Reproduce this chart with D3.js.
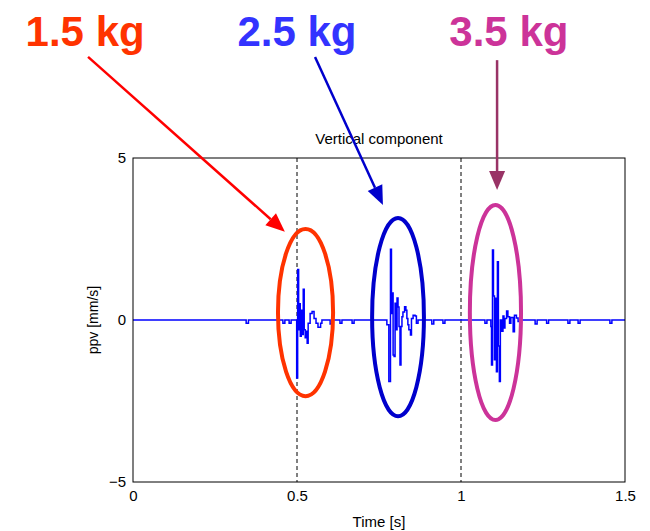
<!DOCTYPE html>
<html>
<head>
<meta charset="utf-8">
<script src="https://cdn.jsdelivr.net/npm/d3@7"></script>
<style>
  body { margin: 0; background: #fff; }
  svg text { font-family: "Liberation Sans", Arial, sans-serif; }
</style>
</head>
<body>
<svg id="chart" width="650" height="531"></svg>
<script>
// signal samples (time in s, ppv in mm/s), step-wise
var times = [0, 0.345, 0.352, 0.457, 0.463, 0.476, 0.482,
  0.499, 0.502, 0.505, 0.507, 0.510, 0.513, 0.516, 0.519, 0.522, 0.525, 0.529, 0.531, 0.534,
  0.540, 0.546, 0.552, 0.558, 0.564, 0.572, 0.576,
  0.601, 0.607, 0.631, 0.637, 0.668, 0.674,
  0.774, 0.780, 0.785, 0.788, 0.791, 0.793, 0.796, 0.799, 0.802, 0.805, 0.808, 0.811, 0.814,
  0.817, 0.820, 0.823, 0.828, 0.832, 0.835, 0.838, 0.841, 0.846, 0.849, 0.854, 0.860, 0.864, 0.869,
  0.911, 0.917, 0.945, 0.951,
  1.073, 1.079, 1.091, 1.093, 1.096, 1.099, 1.102, 1.105, 1.108, 1.111, 1.114, 1.117, 1.120,
  1.124, 1.128, 1.131, 1.134, 1.139, 1.143, 1.148, 1.152, 1.159, 1.163, 1.169, 1.174, 1.180,
  1.226, 1.232, 1.261, 1.267, 1.326, 1.332, 1.357, 1.363, 1.454, 1.460, 1.5];
var ppv = [0, -0.1, 0, -0.1, 0, -0.1, 0,
  -1.79, 1.56, -0.3, 0.5, -0.5, 0.3, -0.45, 0.95, -0.3, -0.55, -0.35, -0.72, -0.1,
  0.2, 0.26, 0.05, -0.1, -0.22, -0.1, 0,
  -0.12, 0, -0.1, 0, -0.1, 0,
  -0.15, -1.9, 2.18, 0.2, 0.83, -1.08, -1.13, 0.52, -0.3, 0.68, 0.4, -0.2, -1.39,
  -0.2, 0.1, 0.25, 0.41, 0.3, 0.05, -0.15, -0.3, -0.46, 0.05, 0.15, 0.12, -0.1, 0,
  -0.12, 0, -0.1, 0,
  -0.1, 0, -0.2, -1.39, 2.16, 0.74, -1.23, 0.67, -1.6, 1.8, -0.8, -1.9, 0,
  -0.35, 0.12, -0.25, 0.05, 0.28, 0.1, -0.1, 0.08, -0.36, 0.15, 0.06, -0.05, 0,
  -0.12, 0, -0.1, 0, -0.1, 0, -0.1, 0, -0.1, 0, 0];

var xTicks = [0, 0.5, 1, 1.5];
var yTicks = [-5, 0, 5];
var markerTimes = [0.5, 1];

// annotations: charge labels, ellipses round the bursts, arrows
var charges = ["1.5 kg", "2.5 kg", "3.5 kg"];
var chargeColors = ["#ff3300", "#3333ff", "#cc3399"];
var ringColors = ["#ff3300", "#0000cc", "#cc3399"];
var arrowColors = ["#ff0000", "#0000cc", "#993366"];
var labelT = [-0.146, 0.5, 1.146];
var labelV = [8.45, 8.45, 8.45];
var ringT = [0.526, 0.808, 1.105];
var ringV = [0.23, 0.09, 0.23];
var ringRT = [0.084, 0.079, 0.078];
var ringRV = [2.58, 3.06, 3.32];
var arrowFrom = [[-0.137, 8.12], [0.555, 8.12], [1.110, 8.02]];
var arrowTo = [[0.463, 2.72], [0.762, 3.55], [1.110, 4.01]];

var margin = {top: 158, right: 25, bottom: 49, left: 133};
var width = 650 - margin.left - margin.right;
var height = 531 - margin.top - margin.bottom;

var svg = d3.select("#chart");
var g = svg.append("g")
    .attr("transform", "translate(" + margin.left + "," + margin.top + ")");

var x = d3.scaleLinear().domain([0, 1.5]).range([0, width]);
var y = d3.scaleLinear().domain([-5, 5]).range([height, 0]);

g.append("defs").append("clipPath").attr("id", "clip")
  .append("rect").attr("width", width).attr("height", height);

// dashed markers
g.selectAll("line.marker")
    .data(markerTimes)
    .enter().append("line")
    .attr("class", "marker")
    .attr("x1", d => x(d)).attr("x2", d => x(d))
    .attr("y1", 0).attr("y2", height)
    .attr("stroke", "#000")
    .attr("stroke-width", 1)
    .attr("stroke-dasharray", "4,3");

// signal
var pts = times.map((t, i) => [t, ppv[i]]);
var line = d3.line()
    .x(d => x(d[0]))
    .y(d => y(d[1]))
    .curve(d3.curveStepAfter);

g.append("path")
    .datum(pts)
    .attr("clip-path", "url(#clip)")
    .attr("fill", "none")
    .attr("stroke", "#0000ff")
    .attr("stroke-width", 1.5)
    .attr("d", line);

// box
g.append("rect")
    .attr("width", width).attr("height", height)
    .attr("fill", "none").attr("stroke", "#000").attr("stroke-width", 1);

// axes, labels only
var xa = g.append("g")
    .attr("transform", "translate(0," + height + ")")
    .call(d3.axisBottom(x).tickValues(xTicks).tickFormat(d3.format("")).tickSize(0).tickPadding(8));
var ya = g.append("g")
    .call(d3.axisLeft(y).tickValues(yTicks).tickSize(0).tickPadding(7));
[xa, ya].forEach(a => {
    a.select(".domain").remove();
    a.selectAll("text").attr("font-size", 15).attr("fill", "#000")
      .style("font-family", "'Liberation Sans', Arial, sans-serif");
});

g.append("text")
    .attr("x", width / 2).attr("y", -14)
    .attr("text-anchor", "middle")
    .attr("font-size", 15)
    .text("Vertical component");
g.append("text")
    .attr("x", width / 2).attr("y", height + 45)
    .attr("text-anchor", "middle")
    .attr("font-size", 15)
    .text("Time [s]");
g.append("text")
    .attr("transform", "translate(-35," + (height / 2) + ") rotate(-90)")
    .attr("text-anchor", "middle")
    .attr("font-size", 14)
    .text("ppv [mm/s]");

// ellipses
g.selectAll("ellipse.ring")
    .data(charges)
    .enter().append("ellipse")
    .attr("class", "ring")
    .attr("cx", (d, i) => x(ringT[i]))
    .attr("cy", (d, i) => y(ringV[i]))
    .attr("rx", (d, i) => x(ringRT[i]) - x(0))
    .attr("ry", (d, i) => y(0) - y(ringRV[i]))
    .attr("fill", "none")
    .attr("stroke", (d, i) => ringColors[i])
    .attr("stroke-width", 4);

// arrows
function arrow(i) {
    var x1 = x(arrowFrom[i][0]), y1 = y(arrowFrom[i][1]);
    var x2 = x(arrowTo[i][0]), y2 = y(arrowTo[i][1]);
    var ang = Math.atan2(y2 - y1, x2 - x1);
    var hl = 19, hw = 8;
    var bx = x2 - hl * Math.cos(ang), by = y2 - hl * Math.sin(ang);
    g.append("line")
        .attr("x1", x1).attr("y1", y1).attr("x2", bx).attr("y2", by)
        .attr("stroke", arrowColors[i]).attr("stroke-width", 2.5);
    var px = -Math.sin(ang) * hw, py = Math.cos(ang) * hw;
    g.append("path")
        .attr("d", "M" + x2 + "," + y2 + "L" + (bx + px) + "," + (by + py) +
              "L" + (bx - px) + "," + (by - py) + "Z")
        .attr("fill", arrowColors[i]);
}
charges.forEach((c, i) => arrow(i));

g.selectAll("text.charge")
    .data(charges)
    .enter().append("text")
    .attr("class", "charge")
    .attr("x", (d, i) => x(labelT[i]))
    .attr("y", (d, i) => y(labelV[i]))
    .attr("text-anchor", "middle")
    .attr("font-size", 42)
    .attr("font-weight", "bold")
    .attr("fill", (d, i) => chargeColors[i])
    .text(d => d);
</script>
</body>
</html>
